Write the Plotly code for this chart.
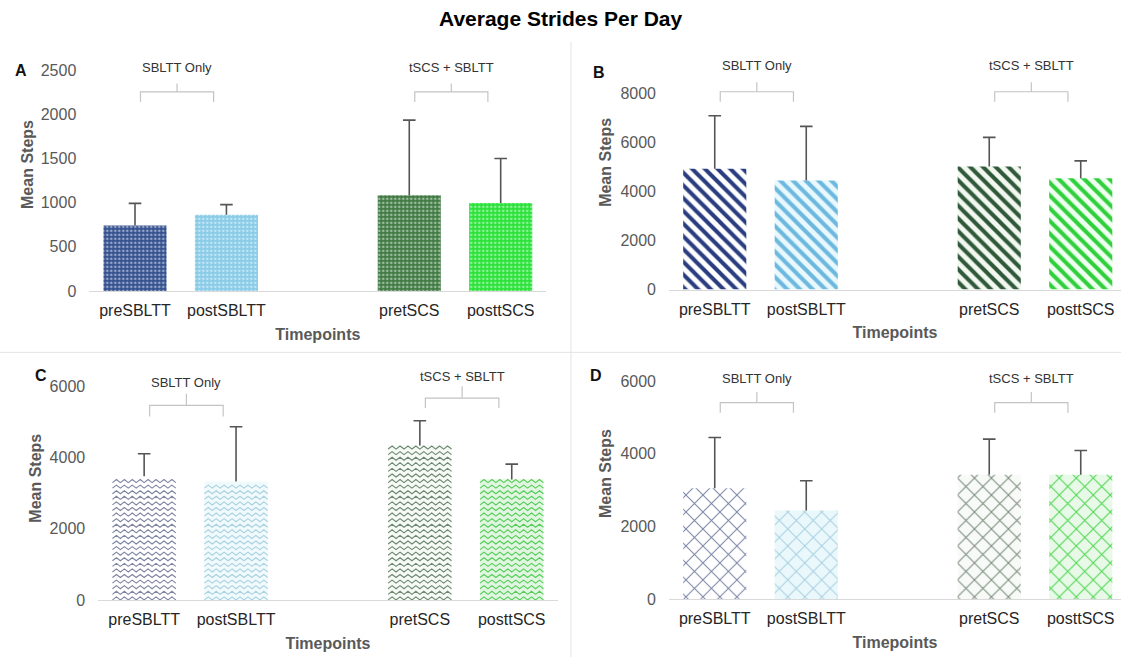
import plotly.graph_objects as go

# ---- data -------------------------------------------------------------
categories = ["preSBLTT", "postSBLTT", "pretSCS", "posttSCS"]
slots = [0, 1, 3, 4]          # an empty slot separates the two groups
group_labels = ["SBLTT Only", "tSCS + SBLTT"]
group_first_slot = [0, 3]

mean_a = [742, 863, 1084, 995]
err_a = [250, 115, 850, 505]

mean_b = [4922, 4449, 5020, 4543]
err_b = [2164, 2204, 1184, 706]

mean_c = [3476, 3327, 4339, 3383]
err_c = [630, 1538, 695, 431]

mean_d = [3055, 2441, 3424, 3424]
err_d = [1395, 817, 980, 669]

# ---- styling ------------------------------------------------------------
W, H = 1121, 666
YS = 0.9855            # vertical pixel scale of the page as displayed
FONT = "Liberation Sans, Arial, sans-serif"
GREY_TXT = "#595959"
ERR_GREY = "#555555"
BAR_W = 0.69


def px_x(p):
    return p / W


def px_y(p):
    return 1 - p / (H * YS)


panels = [
    dict(letter="A", mean=mean_a, err=err_a,
         xpx=(89.3, 546.4), ypx=(290.7, 56.8),
         xrange=[-0.5, 4.5], yrange=[0, 2650], dtick=500,
         letter_xy=(21.4, 70), ytitle_xy=(26.8, 164),
         brackets=[(2534, 2254, 2140, 2349), (2534, 2254, 2140, 2349)],
         pattern=dict(shape=".", size=4, solidity=0.35),
         fg=["#ffffff"] * 4, fgopacity=0.5,
         bg=["#33508f", "#86cbe8", "#3f7a42", "#27e236"]),
    dict(letter="B", mean=mean_b, err=err_b,
         xpx=(669, 1121), ypx=(289.3, 56.5),
         xrange=[-0.5, 4.44], yrange=[0, 9500], dtick=2000,
         letter_xy=(599.5, 72), ytitle_xy=(604.7, 162),
         brackets=[(9127, 8065, 7657, 8449), (9127, 8065, 7657, 8449)],
         pattern=dict(shape="\\", size=9, solidity=0.45),
         fg=["#2a3d80", "#6cb8df", "#30593a", "#2fd03c"], fgopacity=1,
         bg=["#ffffff", "#e8f8fd", "#f2f8f0", "#effff0"]),
    dict(letter="C", mean=mean_c, err=err_c,
         xpx=(98.2, 557.7), ypx=(599.3, 361.1),
         xrange=[-0.5, 4.5], yrange=[0, 6700], dtick=2000,
         letter_xy=(41, 375), ytitle_xy=(35.7, 477.5),
         brackets=[(6107, 5466, 5156, 5795), (6265, 5671, 5390, 6000)],
         zigzag=True,
         fg=["#7d84a0", "#a9d1e0", "#6d8671", "#55cc58"],
         bg=["#ffffff", "#f0fafc", "#f6faf5", "#e0f6e0"]),
    dict(letter="D", mean=mean_d, err=err_d,
         xpx=(669, 1121), ypx=(598.7, 358.9),
         xrange=[-0.5, 4.44], yrange=[0, 6600], dtick=2000,
         letter_xy=(596, 375), ytitle_xy=(605.5, 473),
         brackets=[(6083, 5406, 5131, 5698), (6083, 5406, 5131, 5698)],
         pattern=dict(shape="x", size=12, solidity=0.16),
         fg=["#7a83a6", "#a8d0e0", "#7b8a7b", "#4bd64e"], fgopacity=1,
         bg=["#ffffff", "#eaf8fc", "#f7faf6", "#e8f9e8"]),
]


def zigzag_rows(xc, top, half_w, n_seg, row_step, amp):
    """Horizontal zig-zag rows filling a bar from 0 up to its top."""
    xs, ys = [], []
    base = amp
    while base + amp <= top:
        for j in range(n_seg + 1):
            xs.append(xc - half_w + j * 2 * half_w / n_seg)
            ys.append(base + (amp if j % 2 else -amp))
        xs.append(None)
        ys.append(None)
        base += row_step
    return xs, ys


fig = go.Figure()
layout = dict(
    width=W, height=H,
    margin=dict(l=0, r=0, t=0, b=0),
    paper_bgcolor="white", plot_bgcolor="white",
    showlegend=False, bargap=0.31, barmode="overlay",
    font=dict(family=FONT, color=GREY_TXT),
    shapes=[], annotations=[],
)

for k, p in enumerate(panels, start=1):
    xa, ya = f"x{k}", f"y{k}"
    err_cfg = dict(type="data", symmetric=False, array=p["err"],
                   arrayminus=[0] * len(p["err"]),
                   color=ERR_GREY, thickness=1.6, width=0)

    if p.get("zigzag"):
        fig.add_trace(go.Bar(
            x=slots, y=p["mean"], xaxis=xa, yaxis=ya, width=BAR_W,
            marker=dict(color=p["bg"], line=dict(width=0)),
            error_y=err_cfg, hoverinfo="x+y",
        ))
        # zig-zag texture, sized in screen pixels and converted to data units
        dom_h = (p["ypx"][0] - p["ypx"][1]) * YS
        units_per_px_y = (p["yrange"][1] - p["yrange"][0]) / dom_h
        for xc, top, col in zip(slots, p["mean"], p["fg"]):
            xs, ys = zigzag_rows(xc, top, BAR_W / 2, 16,
                                 5.5 * units_per_px_y, 1.5 * units_per_px_y)
            fig.add_trace(go.Scatter(
                x=xs, y=ys, xaxis=xa, yaxis=ya, mode="lines",
                line=dict(color=col, width=1.1), hoverinfo="skip",
                connectgaps=False,
            ))
    else:
        pat = dict(p["pattern"])
        pat.update(fgcolor=p["fg"], bgcolor=p["bg"], fgopacity=p["fgopacity"],
                   fillmode="replace")
        # scalar marker colour so the per-bar pattern colours are honoured
        fig.add_trace(go.Bar(
            x=slots, y=p["mean"], xaxis=xa, yaxis=ya, width=BAR_W,
            marker=dict(color=p["fg"][0], pattern=pat, line=dict(width=0)),
            error_y=err_cfg, hoverinfo="x+y",
        ))

    # caps at the top of each error bar
    fig.add_trace(go.Scatter(
        x=slots, y=[m + e for m, e in zip(p["mean"], p["err"])],
        xaxis=xa, yaxis=ya, mode="markers", hoverinfo="skip",
        marker=dict(symbol="line-ew", size=9, color=ERR_GREY,
                    line=dict(color=ERR_GREY, width=1.6)),
    ))

    xdom = [px_x(p["xpx"][0]), min(1.0, px_x(p["xpx"][1]))]
    ydom = [px_y(p["ypx"][0]), px_y(p["ypx"][1])]
    layout[f"xaxis{k}"] = dict(
        domain=xdom, anchor=ya, range=p["xrange"],
        tickmode="array", tickvals=slots, ticktext=categories,
        showline=True, linecolor="#d9d9d9", linewidth=1,
        showgrid=False, zeroline=False, ticks="",
        ticklabelstandoff=5,
        tickfont=dict(family=FONT, size=16, color="#262626"),
        title=dict(text="Timepoints", standoff=10,
                   font=dict(family=FONT, size=16, color=GREY_TXT, weight="bold")),
        fixedrange=True,
    )
    layout[f"yaxis{k}"] = dict(
        domain=ydom, anchor=xa, range=p["yrange"],
        tick0=0, dtick=p["dtick"],
        showline=False, showgrid=False, zeroline=False, ticks="",
        ticklabelstandoff=12,
        tickfont=dict(family=FONT, size=16, color=GREY_TXT),
        fixedrange=True,
    )

    # y-axis title, set a little above the centre of the axis
    tx, ty = p["ytitle_xy"]
    layout["annotations"].append(dict(
        x=px_x(tx), y=px_y(ty), xref="paper", yref="paper", text="Mean Steps",
        textangle=-90, showarrow=False, xanchor="center", yanchor="middle",
        font=dict(family=FONT, size=16, color=GREY_TXT, weight="bold"),
    ))

    # group brackets with their labels
    for g, s0 in enumerate(group_first_slot):
        ytext, yline, yend, ytop = p["brackets"][g]
        lo, hi, mid = s0 + 0.06, s0 + 0.86, s0 + 0.46
        layout["shapes"].append(dict(
            type="path", xref=xa, yref=ya,
            path=(f"M {lo},{yend} L {lo},{yline} L {hi},{yline} L {hi},{yend} "
                  f"M {mid},{yline} L {mid},{ytop}"),
            line=dict(color="#c4c4c4", width=1.2),
        ))
        layout["annotations"].append(dict(
            x=mid, y=ytext, xref=xa, yref=ya, text=group_labels[g],
            showarrow=False, xanchor="center", yanchor="middle",
            font=dict(family=FONT, size=13, color="#333333"),
        ))

    lx, ly = p["letter_xy"]
    layout["annotations"].append(dict(
        x=px_x(lx), y=px_y(ly), xref="paper", yref="paper", text=p["letter"],
        showarrow=False, xanchor="center", yanchor="middle",
        font=dict(family=FONT, size=16, color="#111111", weight="bold"),
    ))

# panel dividers
layout["shapes"].append(dict(type="line", xref="paper", yref="paper",
                             x0=px_x(571), x1=px_x(571), y0=0, y1=px_y(42),
                             line=dict(color="#e3e3e3", width=1)))
layout["shapes"].append(dict(type="line", xref="paper", yref="paper",
                             x0=0, x1=1, y0=px_y(352), y1=px_y(352),
                             line=dict(color="#e3e3e3", width=1)))

# overall title
layout["annotations"].append(dict(
    x=0.5, y=px_y(18), xref="paper", yref="paper",
    text="Average Strides Per Day", showarrow=False,
    xanchor="center", yanchor="middle",
    font=dict(family=FONT, size=21, color="#000000", weight="bold"),
))

fig.update_layout(**layout)
fig.write_html("out.html")
